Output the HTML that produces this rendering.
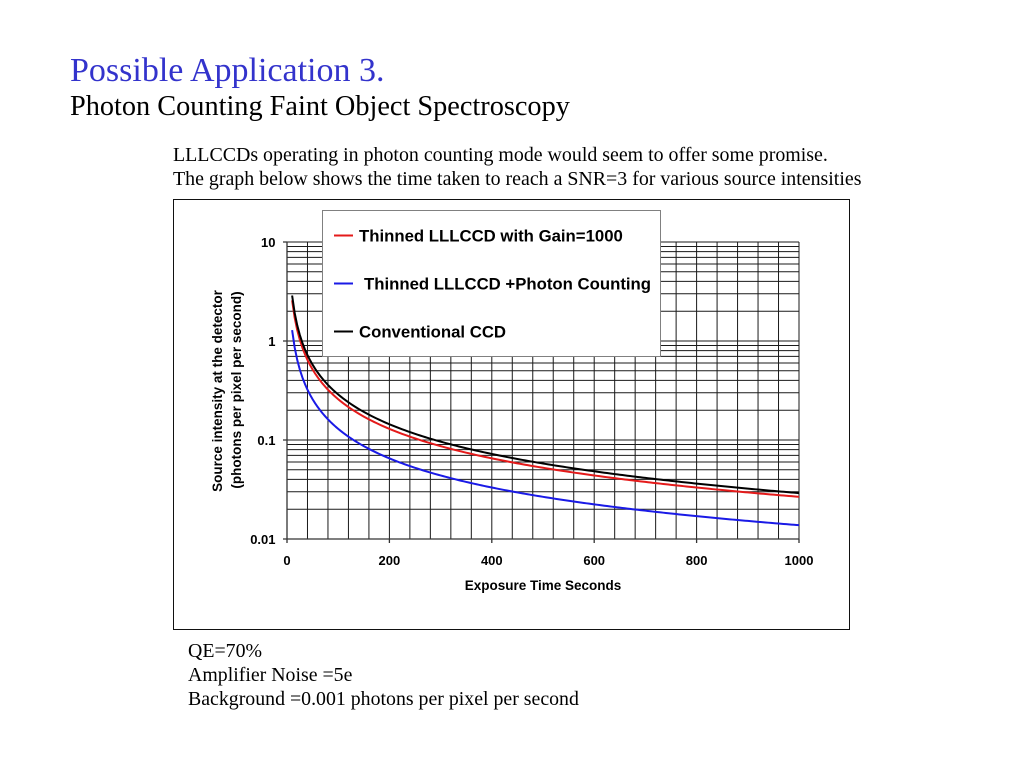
<!DOCTYPE html>
<html>
<head>
<meta charset="utf-8">
<style>
  html,body{margin:0;padding:0;background:#fff;}
  svg{display:block;}
  .serif{font-family:"Liberation Serif","Times New Roman",serif;}
  .sans{font-family:"Liberation Sans",Arial,sans-serif;font-weight:bold;}
</style>
</head>
<body>
<svg id="s" width="1024" height="768" viewBox="0 0 1024 768" xmlns="http://www.w3.org/2000/svg">
  <rect x="0" y="0" width="1024" height="768" fill="#fff"/>

  <!-- Titles -->
  <text class="serif" x="70" y="81" font-size="34" fill="#3333cc">Possible Application 3.</text>
  <text class="serif" x="70" y="115" font-size="28.3" fill="#000">Photon Counting Faint Object Spectroscopy</text>

  <text class="serif" x="173" y="161" font-size="19.9" fill="#000">LLLCCDs operating in photon counting mode would seem to offer some promise.</text>
  <text class="serif" x="173" y="185" font-size="19.9" fill="#000">The graph below shows the time taken to reach a SNR=3 for various source intensities</text>

  <!-- Chart outer box -->
  <rect x="173.5" y="199.5" width="676" height="430" fill="#fff" stroke="#111" stroke-width="1"/>

  <!-- Grid -->
  <path id="grid" d="" stroke="#1a1a1a" stroke-width="1" fill="none"/>
  <path id="axes" d="" stroke="#333" stroke-width="1.3" fill="none"/>

  <!-- Curves -->
  <path id="cRed" d="" stroke="#e41a1a" stroke-width="2" fill="none" stroke-linejoin="round"/>
  <path id="cBlack" d="" stroke="#000" stroke-width="2" fill="none" stroke-linejoin="round"/>
  <path id="cBlue" d="" stroke="#1a1ae6" stroke-width="2" fill="none" stroke-linejoin="round"/>

  <!-- Y tick labels -->
  <g class="sans" font-size="13" fill="#000" text-anchor="end">
    <text x="275.5" y="247">10</text>
    <text x="275.5" y="346">1</text>
    <text x="275.5" y="445">0.1</text>
    <text x="275.5" y="544">0.01</text>
  </g>
  <!-- X tick labels -->
  <g class="sans" font-size="13" fill="#000" text-anchor="middle">
    <text x="287" y="565">0</text>
    <text x="389.4" y="565">200</text>
    <text x="491.8" y="565">400</text>
    <text x="594.2" y="565">600</text>
    <text x="696.6" y="565">800</text>
    <text x="799" y="565">1000</text>
  </g>
  <text class="sans" x="543" y="590" font-size="13.5" text-anchor="middle" fill="#000">Exposure Time Seconds</text>

  <!-- Y axis title -->
  <text class="sans" font-size="13.5" text-anchor="middle" fill="#000" transform="translate(222,391) rotate(-90)">Source intensity at the detector</text>
  <text class="sans" font-size="13.5" text-anchor="middle" fill="#000" transform="translate(241,390) rotate(-90)">(photons per pixel per second)</text>

  <!-- Legend -->
  <rect x="322.5" y="210.5" width="338" height="146" fill="#fff" stroke="#808080" stroke-width="1"/>
  <line x1="334" y1="235.5" x2="353" y2="235.5" stroke="#e41a1a" stroke-width="2"/>
  <line x1="334" y1="283.5" x2="353" y2="283.5" stroke="#1a1ae6" stroke-width="2"/>
  <line x1="334" y1="331.5" x2="353" y2="331.5" stroke="#000" stroke-width="2"/>
  <g class="sans" font-size="16.75" fill="#000">
    <text x="359" y="241.5">Thinned LLLCCD with Gain=1000</text>
    <text x="364" y="289.5">Thinned LLLCCD +Photon Counting</text>
    <text x="359" y="337.5">Conventional CCD</text>
  </g>

  <!-- Footnotes -->
  <text class="serif" x="188" y="657" font-size="19.85" fill="#000">QE=70%</text>
  <text class="serif" x="188" y="681" font-size="19.85" fill="#000">Amplifier Noise =5e</text>
  <text class="serif" x="188" y="705" font-size="19.85" fill="#000">Background =0.001 photons per pixel per second</text>
</svg>
<script>
(function(){
  function X(t){return 287+t*0.512;}
  function Y(v){return 539-(Math.log10(v)+2)*99;}
  var d='';
  for(var k=1;k<=25;k++){var x=X(k*40);d+='M'+x.toFixed(2)+' 242V539';}
  for(var dec=-2;dec<=0;dec++){
    for(var m=1;m<=9;m++){
      if(dec==-2&&m==1)continue;
      var y=Y(m*Math.pow(10,dec));
      d+='M287 '+y.toFixed(2)+'H799';
    }
  }
  d+='M287 242H799';
  document.getElementById('grid').setAttribute('d',d);
  var a='M287 242V539H799';
  for(var dd=0;dd<4;dd++){a+='M283 '+(242+dd*99)+'H287';}
  for(var t=0;t<=1000;t+=200){a+='M'+X(t).toFixed(2)+' 539V543';}
  document.getElementById('axes').setAttribute('d',a);
  function curve(f){
    var s='';
    for(var t=10;t<=1000;t+=5){
      var S=f(t);var I=S/(0.7*t);
      s+=(t==10?'M':'L')+X(t).toFixed(2)+' '+Y(I).toFixed(2);
    }
    return s;
  }
  document.getElementById('cBlack').setAttribute('d',curve(function(t){return (9+Math.sqrt(81+36*(0.0007*t+25)))/2;}));
  document.getElementById('cRed').setAttribute('d',curve(function(t){return (18+Math.sqrt(324+0.0504*t))/2;}));
  document.getElementById('cBlue').setAttribute('d',curve(function(t){return (9+Math.sqrt(81+0.0252*t))/2;}));
})();
</script>
</body>
</html>
